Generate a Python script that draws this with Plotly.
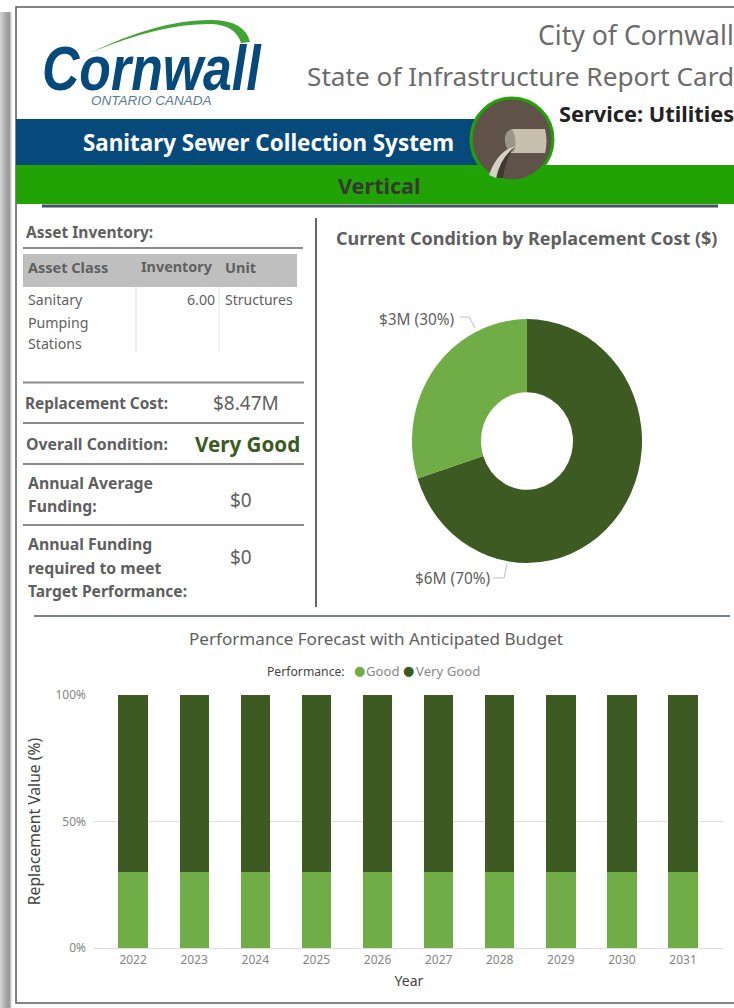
import plotly.graph_objects as go

W, H = 734, 1008

# ---------- data ----------
years = [2022, 2023, 2024, 2025, 2026, 2027, 2028, 2029, 2030, 2031]
good_pct = [30, 30, 30, 30, 30, 30, 30, 30, 30, 30]
very_good_pct = [70, 70, 70, 70, 70, 70, 70, 70, 70, 70]
y_ticks = [0, 50, 100]
y_tick_labels = ["0%", "50%", "100%"]
condition_labels = ["Very Good", "Good"]
condition_cost = [5.93, 2.54]
slice_labels = ["$6M (70%)", "$3M (30%)"]

DARK = "#3c5a22"
LIGHT = "#70ad47"
BLUE = "#064a7b"
GREEN = "#22a305"
TXT = "#5f5f5f"
FONT = "Noto Sans"


def X(v):
    return v / W


def Y(v):
    return 1 - v / H


shapes = []
annotations = []


def rect(x0, y0, x1, y1, fill, layer="below", line=None, lw=0):
    shapes.append(dict(type="rect", xref="paper", yref="paper", x0=X(x0), x1=X(x1), y0=Y(y0), y1=Y(y1),
                       fillcolor=fill, line=dict(color=line or fill, width=lw), layer=layer))


def hline(x0, x1, y, color="#8a8a8a", w=2, layer="below"):
    shapes.append(dict(type="line", xref="paper", yref="paper", x0=X(x0), x1=X(x1), y0=Y(y), y1=Y(y),
                       line=dict(color=color, width=w), layer=layer))


def vline(x, y0, y1, color="#666", w=2):
    shapes.append(dict(type="line", xref="paper", yref="paper", x0=X(x), x1=X(x), y0=Y(y0), y1=Y(y1),
                       line=dict(color=color, width=w), layer="below"))


def pth(points, fill="rgba(0,0,0,0)", line=None, lw=0, layer="above"):
    """points is an SVG path written in page pixels, converted to paper coordinates."""
    out = []
    for tok in points.split():
        if "," in tok:
            a, b = tok.split(",")
            out.append(f"{X(float(a)):.5f},{Y(float(b)):.5f}")
        else:
            out.append(tok)
    shapes.append(dict(type="path", xref="paper", yref="paper", path=" ".join(out), fillcolor=fill,
                       line=dict(color=line or fill, width=lw), layer=layer))


def txt(x, y, s, size=14, color=TXT, bold=False, anchor="left", family=FONT, italic=False):
    f = dict(family=family, size=size, color=color)
    if bold:
        f["weight"] = 700
    if italic:
        f["style"] = "italic"
    shift = {"left": -2, "right": 2, "center": 0}[anchor]
    annotations.append(dict(xref="paper", yref="paper", x=X(x + shift), y=Y(y), text=s, showarrow=False,
                            xanchor=anchor, yanchor="middle", font=f, align=anchor))


# ---------- page frame and left shadow ----------
for x0, x1, c in [(0, 2, "#d0d0d0"), (2, 4, "#bebebe"), (4, 6, "#aeaeae"), (6, 8, "#a2a2a2"),
                  (8, 10, "#9c9c9c"), (10, 11, "#c0c0c0"), (11, 12, "#e6e6e6")]:
    rect(x0, 12, x1, 1008, c)
rect(16, 7, 760, 1003, "#ffffff", line="#5a5a5a", lw=1.5)

# ---------- header ----------
rect(16, 119, 490, 165, BLUE)
rect(16, 165, 734, 204, GREEN)
hline(42, 718, 206, "#45525c", 3)

pth("M 90,53 Q 160,19 213,20 Q 245,21 250,42 L 241,43 Q 236,26 213,24 Q 160,23 90,53 Z", fill="#3fa535")
txt(42, 69, "Cornwall", 62, BLUE, bold=True, family="Liberation Sans", italic=True)
txt(151, 101, "ONTARIO CANADA", 13.5, "#5d7c92", anchor="center", family="Liberation Sans", italic=True)

txt(734, 35, "City of Cornwall", 26.6, "#6b6b6b", anchor="right")
txt(734, 76, "State of Infrastructure Report Card", 26.2, "#6b6b6b", anchor="right")
txt(559, 113, "Service: Utilities", 21.8, "#222222", bold=True)
txt(268, 143, "Sanitary Sewer Collection System", 22.4, "#ffffff", bold=True, anchor="center")
txt(379, 185, "Vertical", 21.6, "#333b2e", bold=True, anchor="center")

# pipe icon
shapes.append(dict(type="circle", xref="paper", yref="paper", x0=X(471), x1=X(553), y0=Y(98), y1=Y(181),
                   fillcolor="#5e5249", line=dict(color=GREEN, width=3), layer="above"))
pth("M 511,129 L 545,129 Q 548,141 545,153 L 511,153 Z", fill="#c9bfae")
pth("M 512,129 Q 504,131 505,141 Q 506,152 514,152 Q 518,140 512,129 Z", fill="#9d9488")
pth("M 516,146 Q 498,150 489,175 L 496,178 Q 500,158 516,146 Z", fill="#d6d0c4")
pth("M 516,146 Q 506,155 503,178 L 497,178 Q 500,158 516,146 Z", fill="#3f3833")

# ---------- left panel ----------
txt(26, 232, "Asset Inventory:", 15.5, bold=True)
hline(23, 303, 248)
rect(23, 254, 297, 287, "#bfbfbf")
txt(28, 267, "Asset Class", 14.5, bold=True)
txt(141, 267, "Inventory", 14.4, bold=True)
txt(225, 267, "Unit", 14.5, bold=True)
vline(136, 287, 352, "#e2e2e2", 1)
vline(219, 287, 352, "#e2e2e2", 1)
txt(28, 299, "Sanitary", 14.2)
txt(28, 322, "Pumping", 14.2)
txt(28, 343, "Stations", 14.2)
txt(215, 299, "6.00", 14.2, anchor="right")
txt(225, 299, "Structures", 14)

hline(23, 304, 382.5)
txt(25, 403, "Replacement Cost:", 15.4, bold=True)
txt(246, 403, "$8.47M", 19, anchor="center")
hline(23, 304, 423)
txt(26, 444, "Overall Condition:", 15.8, bold=True)
txt(300, 444, "Very Good", 20.6, DARK, bold=True, anchor="right")
hline(23, 304, 464)
txt(28, 483, "Annual Average", 15.8, bold=True)
txt(28, 506, "Funding:", 15.8, bold=True)
txt(241, 500, "$0", 19, anchor="center")
hline(23, 304, 525)
txt(28, 544, "Annual Funding", 15.8, bold=True)
txt(28, 568, "required to meet", 15.8, bold=True)
txt(28, 591, "Target Performance:", 15.6, bold=True)
txt(241, 557, "$0", 19, anchor="center")
vline(316, 218, 607, "#666666", 2)
hline(34, 730, 616, "#77828a", 2)

# ---------- donut ----------
txt(336, 238, "Current Condition by Replacement Cost ($)", 18, bold=True)
txt(416.5, 319, slice_labels[1], 15.4, anchor="center")
txt(452.5, 578, slice_labels[0], 15.4, anchor="center")
pth("M 460,317 L 469,317 L 475,328", line="#bdbdbd", lw=1, layer="below")
pth("M 493,578 L 504,578 L 507,564", line="#bdbdbd", lw=1, layer="below")

# ---------- forecast chart text ----------
txt(376, 638, "Performance Forecast with Anticipated Budget", 17.1, anchor="center")
txt(267, 671, "Performance:", 12.2, "#444444")
txt(359, 670.5, "●", 13, LIGHT, anchor="center", family="DejaVu Sans")
txt(366, 671, "Good", 13.2, "#888888")
txt(409, 670.5, "●", 13, DARK, anchor="center", family="DejaVu Sans")
txt(416, 671, "Very Good", 13.2, "#888888")

fig = go.Figure()
fig.add_trace(go.Bar(x=years, y=good_pct, name="Good", marker=dict(color=LIGHT, line_width=0)))
fig.add_trace(go.Bar(x=years, y=very_good_pct, name="Very Good", marker=dict(color=DARK, line_width=0)))
fig.add_trace(go.Pie(labels=condition_labels, values=condition_cost, hole=0.4, sort=False,
                     direction="clockwise", rotation=0, textinfo="none", showlegend=False,
                     marker=dict(colors=[DARK, LIGHT], line=dict(width=0)),
                     domain=dict(x=[X(411.5), X(642.5)], y=[Y(556), Y(326)])))

fig.update_layout(
    width=W, height=H, margin=dict(l=0, r=0, t=0, b=0, pad=0, autoexpand=False),
    paper_bgcolor="#ffffff", plot_bgcolor="rgba(0,0,0,0)",
    barmode="stack", bargap=0.52, showlegend=False,
    font=dict(family=FONT, color=TXT),
    shapes=shapes, annotations=annotations,
    xaxis=dict(domain=[X(94), X(724)], range=[2021.36, 2031.67], tickvals=years, showgrid=False,
               showline=True, linecolor="#dddddd", linewidth=1, zeroline=False, ticks="",
               tickfont=dict(size=12, color="#858585", family=FONT), ticklabelstandoff=1,
               title=dict(text="Year", font=dict(size=14, color="#444444", family=FONT), standoff=8)),
    yaxis=dict(domain=[Y(948), Y(695)], range=[0, 100], tickvals=y_ticks, ticktext=y_tick_labels,
               showgrid=True, gridcolor="#e0e0e0", gridwidth=1, zeroline=False, ticks="",
               tickfont=dict(size=12, color="#858585", family=FONT), ticklabelstandoff=7,
               title=dict(text="Replacement Value (%)", font=dict(size=15.7, color="#444444", family=FONT), standoff=10)),
)

post = """
document.documentElement.style.overflow='hidden';
document.body.style.margin='0';
var gd=document.getElementById('{plot_id}');
gd.querySelectorAll('.pielayer .trace').forEach(function(t){
  t.setAttribute('transform','translate(0,'+(441*(1-1.06))+') scale(1,1.06)');
});
gd.querySelectorAll('.annotation').forEach(function(a){
  if(a.textContent==='Cornwall'){
    var s=0.835;
    a.setAttribute('transform','translate('+(42*(1-s))+',0) scale('+s+',1)');
  }
});
"""
fig.write_html("out.html", config=dict(displayModeBar=False), post_script=post)
